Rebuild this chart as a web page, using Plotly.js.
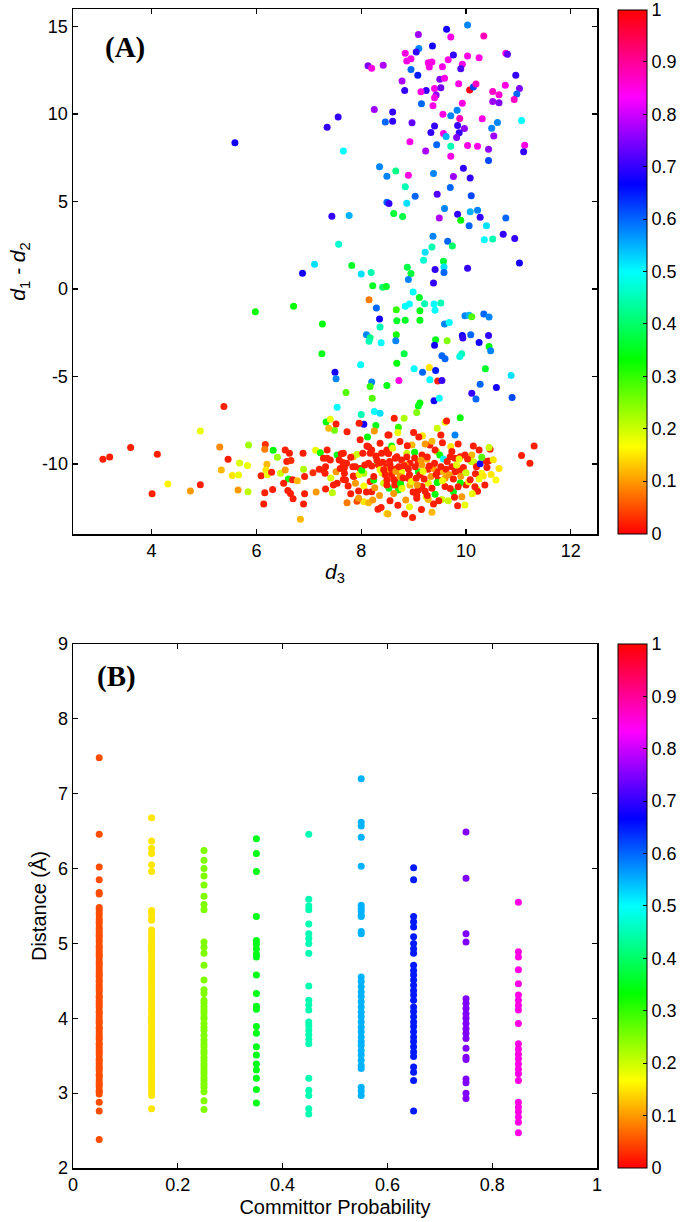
<!DOCTYPE html>
<html>
<head>
<meta charset="utf-8">
<script src="https://cdn.plot.ly/plotly-3.0.1.min.js"></script>
<style>html,body{margin:0;padding:0;background:#fff;}#chart{width:680px;height:1222px;}</style>
</head>
<body>
<div id="chart"></div>
<script>
// ---------- Panel A data: [d3, d1-d2, committor probability] ----------
const upperA = [
[10.03,15.09,0.58],[9.63,14.84,0.68],[9.09,14.54,0.77],[9.71,14.40,0.85],[10.34,14.46,0.88],
[9.36,13.89,0.68],[9.10,13.74,0.58],[9.05,13.55,0.70],[8.84,13.47,0.85],[8.95,13.16,0.85],
[8.87,13.03,0.85],[9.28,12.93,0.85],[9.35,12.97,0.85],[9.30,12.69,0.85],[9.66,13.10,0.85],
[9.76,13.37,0.70],[10.03,13.32,0.85],[10.25,13.22,0.85],[9.93,12.84,0.85],[9.90,12.59,0.72],
[9.55,12.70,0.85],[10.76,13.47,0.85],[10.79,13.41,0.73],[8.13,12.76,0.75],[8.20,12.61,0.85],
[8.42,12.78,0.78],[8.95,12.55,0.60],[9.08,12.21,0.65],[8.78,11.88,0.78],[8.83,11.35,0.70],
[9.50,11.98,0.75],[9.59,12.04,0.85],[9.86,11.73,0.85],[10.07,11.37,0.98],[10.14,11.54,0.62],
[10.19,11.71,0.87],[9.40,11.46,0.85],[9.52,11.50,0.74],[9.24,11.35,0.70],[9.14,11.27,0.85],
[9.43,11.08,0.76],[9.40,10.93,0.85],[10.51,11.29,0.87],[10.63,11.10,0.86],[10.95,12.21,0.70],
[11.02,11.46,0.75],[10.97,11.14,0.60],[10.75,11.64,0.85],[10.92,10.83,0.87],[10.51,10.72,0.77],
[10.63,10.64,0.75],[9.15,10.59,0.60],[9.37,10.47,0.85],[9.93,10.62,0.85],[9.83,10.22,0.58],
[8.25,10.26,0.77],[8.60,10.11,0.70],[8.60,9.59,0.70],[8.46,9.54,0.60],[9.56,9.99,0.85],
[9.71,9.90,0.58],[9.88,9.75,0.88],[8.97,9.50,0.73],[9.40,9.31,0.70],[9.84,9.35,0.70],
[9.97,9.17,0.76],[9.87,8.93,0.70],[9.33,8.95,0.70],[10.31,9.73,0.85],[10.60,9.52,0.58],
[10.49,9.19,0.58],[11.06,9.63,0.50],[9.57,8.89,0.85],[9.62,8.72,0.55],[9.82,8.66,0.75],
[10.53,8.74,0.77],[11.12,8.22,0.85],[11.10,7.84,0.70],[8.93,8.41,0.85],[9.44,8.24,0.60],
[9.71,8.16,0.45],[10.03,8.20,0.85],[10.22,8.16,0.85],[9.23,7.88,0.78],[10.43,7.99,0.76],
[9.71,7.59,0.85],[10.43,7.34,0.62],[7.56,9.83,0.70],[7.35,9.25,0.70],[5.59,8.36,0.68],
[7.66,7.88,0.50],[8.35,6.98,0.58],[8.49,6.45,0.58],[8.66,6.75,0.42],[8.90,6.50,0.85],
[9.38,6.60,0.58],[9.76,6.43,0.77],[9.95,6.90,0.70],[10.08,6.35,0.70]
];
const middleA = [
[8.84,5.84,0.45],[9.45,5.41,0.72],[9.70,5.80,0.60],[9.03,5.30,0.60],[10.10,5.33,0.62],
[8.49,4.96,0.60],[8.53,4.88,0.70],[8.87,4.90,0.52],[7.44,4.16,0.70],[7.77,4.20,0.55],
[8.62,4.31,0.37],[8.79,4.14,0.38],[9.59,4.60,0.58],[9.49,4.06,0.78],[9.84,4.27,0.70],
[9.90,3.93,0.33],[10.08,4.41,0.55],[10.22,4.50,0.58],[10.27,4.10,0.70],[10.06,3.61,0.60],
[10.39,3.61,0.52],[10.76,4.06,0.60],[7.57,2.56,0.47],[9.37,3.02,0.58],[9.65,2.73,0.60],
[9.74,2.46,0.40],[10.35,2.82,0.50],[10.51,2.86,0.45],[10.71,3.13,0.70],[10.93,2.89,0.70],
[9.35,2.40,0.45],[9.22,2.10,0.52],[9.19,1.64,0.47],[9.57,1.58,0.37],[9.58,1.26,0.52],
[9.41,1.11,0.70],[9.58,0.95,0.60],[10.03,1.18,0.70],[11.02,1.48,0.68],[7.11,1.41,0.52],
[6.88,0.90,0.68],[7.82,1.35,0.36],[8.00,0.86,0.52],[8.19,0.95,0.45],[8.88,1.24,0.38],
[8.95,0.88,0.37],[8.90,0.55,0.58],[9.38,0.34,0.70],[8.22,0.19,0.36],[8.41,0.10,0.40],
[8.48,0.15,0.36],[8.99,-0.17,0.50],[9.11,-0.48,0.36],[8.15,-0.61,0.08],[6.71,-0.99,0.33],
[5.98,-1.30,0.33],[8.29,-1.09,0.60],[8.67,-1.18,0.30],[8.84,-0.99,0.50],[8.92,-0.86,0.50],
[9.21,-0.84,0.45],[9.39,-0.86,0.50],[9.52,-0.80,0.45],[9.41,-1.22,0.50],[8.35,-1.72,0.68],
[8.36,-2.17,0.45],[8.68,-1.81,0.36],[8.84,-1.79,0.36],[9.12,-1.24,0.35],[9.12,-1.79,0.35],
[7.26,-2.00,0.34],[9.59,-2.00,0.58],[9.68,-1.91,0.50],[9.98,-1.53,0.58],[10.06,-1.50,0.55],
[10.11,-1.58,0.28],[10.34,-1.43,0.60],[10.44,-1.60,0.58],[9.93,-2.65,0.68],[9.94,-2.80,0.70],
[10.09,-2.61,0.60],[10.43,-2.65,0.70],[10.25,-3.05,0.68],[10.44,-3.28,0.33],[10.47,-3.53,0.58],
[9.42,-2.90,0.35],[9.40,-3.22,0.68],[9.64,-2.96,0.25],[8.67,-2.61,0.32],[8.66,-2.96,0.58],
[8.10,-2.61,0.58],[8.17,-2.78,0.42],[8.15,-2.99,0.45],[8.38,-3.07,0.50],[7.25,-3.70,0.35],
[8.82,-3.70,0.38],[9.54,-3.82,0.60],[9.60,-3.99,0.60],[9.92,-3.70,0.45],[9.88,-3.85,0.48],
[10.37,-4.56,0.36],[7.99,-4.33,0.50],[8.68,-4.24,0.34],[9.01,-4.56,0.50],[9.30,-4.48,0.15],
[9.17,-4.75,0.60],[9.42,-4.65,0.65],[7.50,-4.75,0.68],[7.52,-5.13,0.58],[8.72,-5.23,0.85],
[9.31,-5.19,0.50],[9.46,-5.25,0.02],[9.54,-5.23,0.70],[8.20,-5.32,0.58],[8.17,-5.57,0.30],
[8.49,-5.51,0.35],[10.27,-5.44,0.60],[10.86,-4.94,0.52],[10.58,-5.63,0.68],[10.88,-6.20,0.62],
[7.71,-5.91,0.28],[8.21,-6.24,0.28],[9.12,-6.52,0.33],[9.09,-6.68,0.35],[9.39,-6.39,0.68],
[9.49,-6.24,0.50],[10.11,-5.95,0.70],[10.19,-6.28,0.60],[7.54,-6.75,0.50],[5.38,-6.72,0.02]
];
const lowerLeftA = [
[3.07,-9.73,0.02],[3.20,-9.60,0.02],[3.60,-9.06,0.02],[4.11,-9.44,0.02],[4.01,-11.70,0.02],
[4.31,-11.14,0.16],[4.74,-11.54,0.10],[4.93,-11.18,0.02],[4.93,-8.11,0.18],[5.30,-9.03,0.09],
[5.46,-9.73,0.02],[5.33,-10.34,0.12],[5.54,-10.65,0.15],[5.66,-10.63,0.18],[5.68,-9.94,0.19],
[5.83,-10.09,0.18],[5.85,-8.91,0.23],[5.65,-11.49,0.10],[5.84,-11.58,0.21],[6.17,-8.89,0.03],
[6.16,-9.16,0.08],[6.09,-10.67,0.02],[6.20,-10.02,0.12],[6.18,-10.34,0.15],[6.21,-10.62,0.18],
[6.29,-10.47,0.02],[6.16,-11.64,0.02],[6.14,-12.29,0.02],[6.31,-11.45,0.02],[6.32,-9.22,0.33],
[6.40,-9.62,0.23],[6.46,-10.53,0.20],[6.55,-10.34,0.10],[6.55,-9.20,0.02],[6.63,-9.39,0.02],
[6.58,-9.86,0.02],[6.66,-9.80,0.03],[6.61,-10.86,0.32],[6.69,-10.90,0.02],[6.78,-10.95,0.12],
[6.52,-11.10,0.02],[6.60,-11.52,0.02],[6.65,-11.68,0.02],[6.70,-11.98,0.02],[6.84,-13.15,0.12],
[6.89,-9.39,0.02],[6.90,-10.30,0.22],[6.92,-10.72,0.02],[6.92,-11.70,0.02],[6.90,-12.29,0.02],
[7.08,-10.50,0.03],[7.13,-9.22,0.18],[7.22,-9.35,0.32],[7.14,-11.60,0.10],[7.20,-10.30,0.02],
[7.28,-10.34,0.02],[7.32,-10.15,0.02],[7.31,-10.53,0.02],[7.28,-9.67,0.02],[7.35,-9.20,0.02],
[7.35,-9.67,0.02],[7.41,-9.77,0.02],[7.32,-11.43,0.02],[7.42,-10.80,0.19],[7.45,-11.64,0.21],
[7.52,-10.44,0.10],[7.47,-11.20,0.02],[7.54,-11.10,0.02],[7.54,-9.48,0.35],[7.33,-7.60,0.34],
[7.41,-7.44,0.18],[7.49,-8.07,0.26],[7.38,-7.96,0.12],[7.52,-7.71,0.02]
];
const lowerMidA = [
[7.58,-9.77,0.02],[7.60,-10.25,0.02],[7.68,-10.53,0.02],[7.70,-10.91,0.02],[7.72,-9.96,0.02],
[7.66,-9.39,0.02],[7.73,-8.15,0.02],[7.85,-9.58,0.12],[7.92,-9.44,0.20],[7.89,-10.15,0.02],
[7.85,-10.68,0.02],[7.73,-12.21,0.08],[7.95,-11.54,0.02],[7.98,-10.25,0.02],[8.01,-10.44,0.33],
[8.05,-10.53,0.22],[8.03,-9.39,0.02],[8.11,-8.97,0.02],[8.20,-9.20,0.02],[8.36,-8.81,0.02],
[8.28,-9.54,0.02],[8.14,-9.96,0.02],[8.32,-9.96,0.32],[8.49,-10.15,0.02],[8.49,-9.20,0.02],
[8.40,-10.53,0.18],[8.17,-11.00,0.02],[8.24,-10.91,0.33],[8.05,-11.26,0.17],[8.20,-11.58,0.02],
[8.43,-11.10,0.20],[8.53,-11.39,0.35],[8.05,-12.15,0.15],[8.14,-12.21,0.12],[8.22,-12.06,0.10],
[8.32,-12.59,0.02],[8.38,-12.48,0.02],[8.49,-12.82,0.15],[8.00,-7.17,0.45],[8.25,-7.00,0.50],
[8.36,-7.10,0.52],[8.05,-7.73,0.68],[8.28,-7.80,0.35],[8.25,-8.11,0.10],[8.51,-8.34,0.02],
[7.92,-12.12,0.05],[7.96,-7.67,0.02]
];
const lowerRightA = [
[8.63,-7.38,0.02],[8.82,-7.38,0.22],[9.06,-7.06,0.25],[9.60,-7.61,0.17],[9.63,-7.54,0.02],
[9.89,-7.35,0.33],[8.53,-8.34,0.02],[8.71,-7.90,0.30],[8.70,-8.20,0.18],[8.74,-8.72,0.02],
[8.58,-8.97,0.32],[9.17,-8.39,0.15],[9.52,-8.34,0.02],[9.55,-8.78,0.02],[9.71,-9.00,0.15],
[9.79,-8.34,0.58],[10.14,-8.97,0.02],[10.46,-9.16,0.02],[10.44,-9.06,0.20],[11.30,-8.97,0.02],
[11.06,-9.52,0.02],[11.22,-9.96,0.02],[9.31,-8.91,0.02],[9.22,-8.85,0.10],[8.97,-8.91,0.12],
[9.02,-9.33,0.33],[8.87,-9.39,0.20],[8.52,-9.39,0.02],[8.65,-9.67,0.02],[8.77,-9.77,0.02],
[9.16,-9.48,0.02],[9.25,-9.73,0.12],[9.44,-9.29,0.20],[9.41,-9.20,0.02],[9.50,-9.48,0.32],
[9.57,-9.71,0.50],[9.70,-9.58,0.02],[9.79,-9.67,0.02],[9.89,-9.58,0.02],[9.87,-9.72,0.18],
[9.09,-9.92,0.02],[9.16,-10.05,0.10],[8.93,-9.96,0.02],[8.84,-10.05,0.10],[8.55,-10.05,0.02],
[8.68,-10.25,0.02],[8.49,-10.34,0.10],[8.77,-10.44,0.18],[9.09,-10.44,0.35],[9.28,-10.30,0.02],
[9.38,-10.25,0.10],[9.47,-10.44,0.02],[9.57,-10.44,0.12],[9.73,-10.15,0.02],[9.79,-10.44,0.02],
[9.87,-10.38,0.02],[10.10,-9.86,0.22],[10.15,-9.88,0.20],[10.20,-10.15,0.02],[10.27,-9.98,0.68],
[10.43,-9.83,0.02],[10.63,-10.25,0.15],[10.30,-10.53,0.17],[10.33,-10.68,0.15],[10.57,-10.91,0.17],
[10.36,-11.20,0.02],[10.20,-11.43,0.22],[10.22,-11.55,0.02],[10.00,-11.20,0.02],[9.89,-11.07,0.33],
[9.76,-11.58,0.35],[9.78,-11.90,0.02],[9.84,-12.38,0.02],[9.98,-12.34,0.18],[9.38,-12.29,0.02],
[9.54,-12.02,0.20],[9.41,-11.73,0.33],[9.24,-11.87,0.18],[9.28,-12.02,0.12],[9.06,-11.96,0.02],
[8.83,-12.86,0.02],[8.98,-13.05,0.02],[8.51,-12.86,0.12],[9.60,-11.29,0.02],[9.47,-10.91,0.02],
[9.60,-10.82,0.10],[9.28,-11.10,0.18],[9.16,-11.29,0.02],[9.09,-11.49,0.02],[9.06,-11.78,0.02],
[8.93,-11.20,0.12],[8.77,-11.29,0.20],[8.71,-11.49,0.32],[8.62,-11.68,0.10],[8.65,-11.01,0.02],
[8.49,-11.20,0.02],[8.90,-10.82,0.02],[8.74,-10.72,0.10],[9.92,-11.87,0.10],[10.05,-11.01,0.17],
[10.17,-11.30,0.02],[9.66,-12.10,0.20],[10.11,-9.48,0.12],[9.98,-9.48,0.02],[9.73,-9.29,0.02],
[10.39,-9.86,0.02],[9.10,-8.45,0.02],[9.26,-11.80,0.02]
];
const lowerDenseA = [
[7.62,-9.42,0.02],[7.65,-9.92,0.02],[7.68,-10.22,0.02],[7.66,-10.88,0.02],[7.80,-9.62,0.02],
[7.84,-10.15,0.02],[7.86,-10.72,0.02],[7.89,-11.10,0.10],[7.96,-10.60,0.18],[8.01,-10.36,0.33],
[8.07,-10.05,0.02],[8.14,-9.02,0.02],[8.17,-9.38,0.02],[8.20,-10.12,0.02],[8.24,-10.72,0.02],
[8.26,-11.35,0.10],[8.30,-9.77,0.02],[8.33,-10.05,0.02],[8.36,-10.33,0.18],[8.39,-9.38,0.02],
[8.41,-9.90,0.02],[8.43,-10.33,0.02],[8.46,-10.62,0.02],[8.49,-10.91,0.02],[8.52,-9.40,0.02],
[8.54,-9.86,0.02],[8.57,-10.25,0.02],[8.58,-10.62,0.02],[8.62,-10.88,0.02],[8.64,-11.20,0.02],
[8.66,-10.43,0.10],[8.68,-9.58,0.02],[8.72,-10.15,0.02],[8.75,-11.12,0.33],[8.78,-11.40,0.18],
[8.80,-10.80,0.02],[8.82,-10.10,0.02],[8.85,-12.05,0.10],[8.87,-9.60,0.02],[8.90,-10.28,0.02],
[8.92,-10.62,0.02],[8.96,-11.00,0.18],[8.99,-11.60,0.02],[9.02,-9.65,0.02],[9.03,-10.15,0.02],
[9.05,-10.82,0.02],[9.07,-11.20,0.10],[9.12,-10.62,0.02],[9.14,-9.78,0.10],[9.18,-10.42,0.18],
[9.20,-10.85,0.02],[9.22,-11.55,0.02],[9.26,-9.60,0.02],[9.30,-10.12,0.02],[9.33,-10.72,0.10],
[9.35,-11.38,0.02],[9.40,-9.95,0.02],[9.43,-10.60,0.02],[9.45,-11.05,0.33],[9.48,-12.10,0.02],
[9.52,-10.15,0.02],[9.55,-10.95,0.18],[9.62,-10.30,0.02],[9.64,-9.85,0.02],[9.68,-10.62,0.10],
[9.70,-11.40,0.02],[9.76,-10.85,0.02],[9.82,-10.05,0.18],[9.85,-11.30,0.02],[9.90,-10.70,0.10],
[9.95,-10.20,0.02],[10.00,-10.50,0.20],[10.03,-9.72,0.02],[10.08,-10.90,0.02],[10.12,-11.70,0.18],
[10.18,-10.55,0.02],[10.25,-10.85,0.18],[10.30,-9.62,0.28],[10.40,-10.20,0.02],[10.48,-10.60,0.15],
[7.75,-11.25,0.02],[7.80,-11.70,0.02],[7.95,-11.95,0.10],[8.10,-11.60,0.02],[8.35,-11.80,0.10],
[8.55,-12.10,0.02],[8.70,-12.35,0.02],[8.92,-12.45,0.18],[9.15,-12.60,0.02],[9.35,-12.75,0.12],
[8.60,-9.10,0.18],[8.88,-8.95,0.02],[9.35,-8.70,0.12],[9.85,-8.85,0.02],[8.12,-8.45,0.33],
[7.98,-8.62,0.02],[9.00,-8.20,0.02],[9.45,-7.95,0.20],[10.25,-9.20,0.02],[10.52,-9.75,0.15]
];

// ---------- Panel B data: distance (Å) per committor-probability bin ----------
const committorBins = [0.05,0.15,0.25,0.35,0.45,0.55,0.65,0.75,0.85];
const dist05 = [7.48,6.46,6.02,5.85,5.68,5.66,5.48,5.45,5.41,5.38,5.33,5.30,5.27,5.22,5.19,5.15,5.11,5.09,5.05,5.02,4.97,4.95,4.91,4.87,4.84,4.81,4.76,4.73,4.70,4.66,4.62,4.59,4.56,4.51,4.49,4.45,4.41,4.38,4.35,4.30,4.28,4.24,4.20,4.17,4.14,4.09,4.07,4.03,3.99,3.96,3.93,3.88,3.86,3.82,3.78,3.75,3.72,3.67,3.65,3.61,3.57,3.54,3.51,3.46,3.44,3.40,3.36,3.33,3.30,3.25,3.23,3.19,3.15,3.12,3.09,3.04,3.02,2.99,2.88,2.76,2.38];
const dist15 = [6.68,6.37,6.27,6.20,6.05,5.96,5.44,5.40,5.34,5.31,5.18,5.14,5.10,5.06,5.01,4.97,4.93,4.90,4.86,4.81,4.77,4.74,4.70,4.65,4.62,4.58,4.53,4.50,4.46,4.42,4.37,4.34,4.30,4.25,4.22,4.18,4.13,4.10,4.06,4.01,3.98,3.94,3.89,3.86,3.82,3.78,3.74,3.70,3.66,3.62,3.58,3.54,3.50,3.46,3.42,3.38,3.34,3.30,3.26,3.22,3.18,3.14,3.10,3.06,3.02,2.97,2.79];
const dist25 = [6.24,6.11,6.00,5.90,5.78,5.63,5.52,5.45,5.02,4.95,4.87,4.71,4.51,4.38,4.33,4.24,4.20,4.15,4.11,4.07,4.02,3.99,3.93,3.88,3.84,3.77,3.71,3.66,3.62,3.57,3.53,3.48,3.44,3.39,3.35,3.30,3.26,3.21,3.17,3.12,3.08,3.02,2.90,2.78];
const dist35 = [6.40,6.20,5.96,5.36,5.04,4.99,4.93,4.86,4.82,4.58,4.33,4.16,4.12,3.89,3.80,3.62,3.51,3.39,3.31,3.20,3.05,2.87];
const dist45 = [6.46,5.59,5.50,5.45,5.26,5.13,5.07,5.00,4.87,4.43,4.24,4.18,4.11,3.95,3.90,3.84,3.78,3.72,3.66,3.20,3.04,2.97,2.79,2.72];
const dist55 = [7.20,6.62,6.57,6.42,6.03,5.51,5.47,5.43,5.38,5.36,5.16,5.13,4.55,4.49,4.42,4.35,4.29,4.22,4.15,4.08,4.02,3.95,3.88,3.82,3.75,3.69,3.64,3.57,3.51,3.44,3.37,3.33,3.08,3.03,2.97];
const dist65 = [6.01,5.85,5.36,5.29,5.22,5.09,5.00,4.93,4.87,4.71,4.64,4.58,4.51,4.44,4.37,4.31,4.24,4.15,4.09,4.02,3.95,3.89,3.82,3.75,3.69,3.62,3.55,3.49,3.35,3.28,3.17,2.76];
const dist75 = [6.49,5.87,5.13,5.02,4.26,4.20,4.13,4.06,4.00,3.93,3.86,3.80,3.73,3.60,3.48,3.45,3.19,3.14,3.00,2.93];
const dist85 = [5.55,4.89,4.82,4.65,4.46,4.31,4.24,4.17,4.11,3.93,3.66,3.59,3.52,3.46,3.39,3.32,3.26,3.17,2.88,2.81,2.75,2.68,2.61,2.47];
const distByBin = [dist05,dist15,dist25,dist35,dist45,dist55,dist65,dist75,dist85];

// ---------- Tick labels ----------
const aXTicks = [4,6,8,10,12];
const aYTicks = [-10,-5,0,5,10,15];
const aYTickText = ['-10','-5','0','5','10','15'];
const bXTicks = [0,0.2,0.4,0.6,0.8,1];
const bXTickText = ['0','0.2','0.4','0.6','0.8','1'];
const bYTicks = [2,3,4,5,6,7,8,9];
const cbTicks = [0,0.1,0.2,0.3,0.4,0.5,0.6,0.7,0.8,0.9,1];
const cbTickText = ['0','0.1','0.2','0.3','0.4','0.5','0.6','0.7','0.8','0.9','1'];

// ---------- Build ----------
const pointsA = upperA.concat(middleA, lowerLeftA, lowerMidA, lowerRightA, lowerDenseA);
const aX = pointsA.map(p => p[0]);
const aY = pointsA.map(p => p[1]);
const aC = pointsA.map(p => p[2]);

const bX = [], bY = [];
committorBins.forEach((p, i) => distByBin[i].forEach(d => { bX.push(p); bY.push(d); }));

const hsv = [[0,'rgb(255,0,0)'],[1/6,'rgb(255,255,0)'],[2/6,'rgb(0,255,0)'],[0.5,'rgb(0,255,255)'],[4/6,'rgb(0,0,255)'],[5/6,'rgb(255,0,255)'],[1,'rgb(255,0,0)']];

const FONT = 'Liberation Sans, Arial, sans-serif';
function cb(yc) {
  return {x:1.040, xanchor:'left', xpad:0, y:yc, yanchor:'middle', ypad:0, len:0.4521, lenmode:'fraction',
    thickness:29, outlinewidth:1, outlinecolor:'#000', ticks:'inside', ticklen:4, tickcolor:'#000',
    ticklabeloverflow:'allow', tickvals:cbTicks, ticktext:cbTickText, tickfont:{family:FONT, size:18, color:'#000'}};
}

const traceA = {type:'scatter', mode:'markers', x:aX, y:aY, xaxis:'x', yaxis:'y',
  marker:{size:7, color:aC, colorscale:hsv, cmin:0, cmax:1, showscale:true, colorbar:cb(0.7735)},
  hoverinfo:'x+y'};
const traceB = {type:'scatter', mode:'markers', x:bX, y:bY, xaxis:'x2', yaxis:'y2',
  marker:{size:7, color:bX, colorscale:hsv, cmin:0, cmax:1, showscale:true, colorbar:cb(0.2261)},
  hoverinfo:'x+y'};

const axBase = {showline:true, linecolor:'#000', linewidth:1.5, mirror:'ticks', ticks:'inside', ticklen:5,
  tickcolor:'#000', tickwidth:1.2, showgrid:false, zeroline:false, tickfont:{family:FONT, size:18, color:'#000'}};

const layout = {
  width:680, height:1222, paper_bgcolor:'#fff', plot_bgcolor:'#fff', showlegend:false,
  margin:{l:73, r:83, t:9, b:54, autoexpand:false},
  font:{family:FONT, color:'#000'},
  xaxis: Object.assign({}, axBase, {domain:[0,1], anchor:'y', range:[2.5,12.5], tickvals:aXTicks,
    title:{text:'<i>d</i><sub>3</sub>', font:{family:FONT, size:21}, standoff:4}}),
  yaxis: Object.assign({}, axBase, {domain:[0.547,1], anchor:'x', range:[-14,16], tickvals:aYTicks, ticktext:aYTickText,
    title:{text:'<i>d</i><sub>1</sub><i> - d</i><sub>2</sub>', font:{family:FONT, size:21}, standoff:10}}),
  xaxis2: Object.assign({}, axBase, {domain:[0,1], anchor:'y2', range:[0,1], tickvals:bXTicks, ticktext:bXTickText,
    title:{text:'Committor Probability', font:{family:FONT, size:20}, standoff:6}}),
  yaxis2: Object.assign({}, axBase, {domain:[0,0.4521], anchor:'x2', range:[2,9], tickvals:bYTicks,
    title:{text:'Distance (Å)', font:{family:FONT, size:20}, standoff:6}}),
  annotations:[
    {text:'<b>(A)</b>', xref:'paper', yref:'paper', x:0.0573, y:0.9664, xanchor:'left', yanchor:'middle', showarrow:false,
     font:{family:'Liberation Serif, Times New Roman, serif', size:29, color:'#000'}},
    {text:'<b>(B)</b>', xref:'paper', yref:'paper', x:0.042, y:0.4245, xanchor:'left', yanchor:'middle', showarrow:false,
     font:{family:'Liberation Serif, Times New Roman, serif', size:29, color:'#000'}}
  ]
};

Plotly.newPlot('chart', [traceA, traceB], layout, {displayModeBar:false, staticPlot:true});
</script>
</body>
</html>
